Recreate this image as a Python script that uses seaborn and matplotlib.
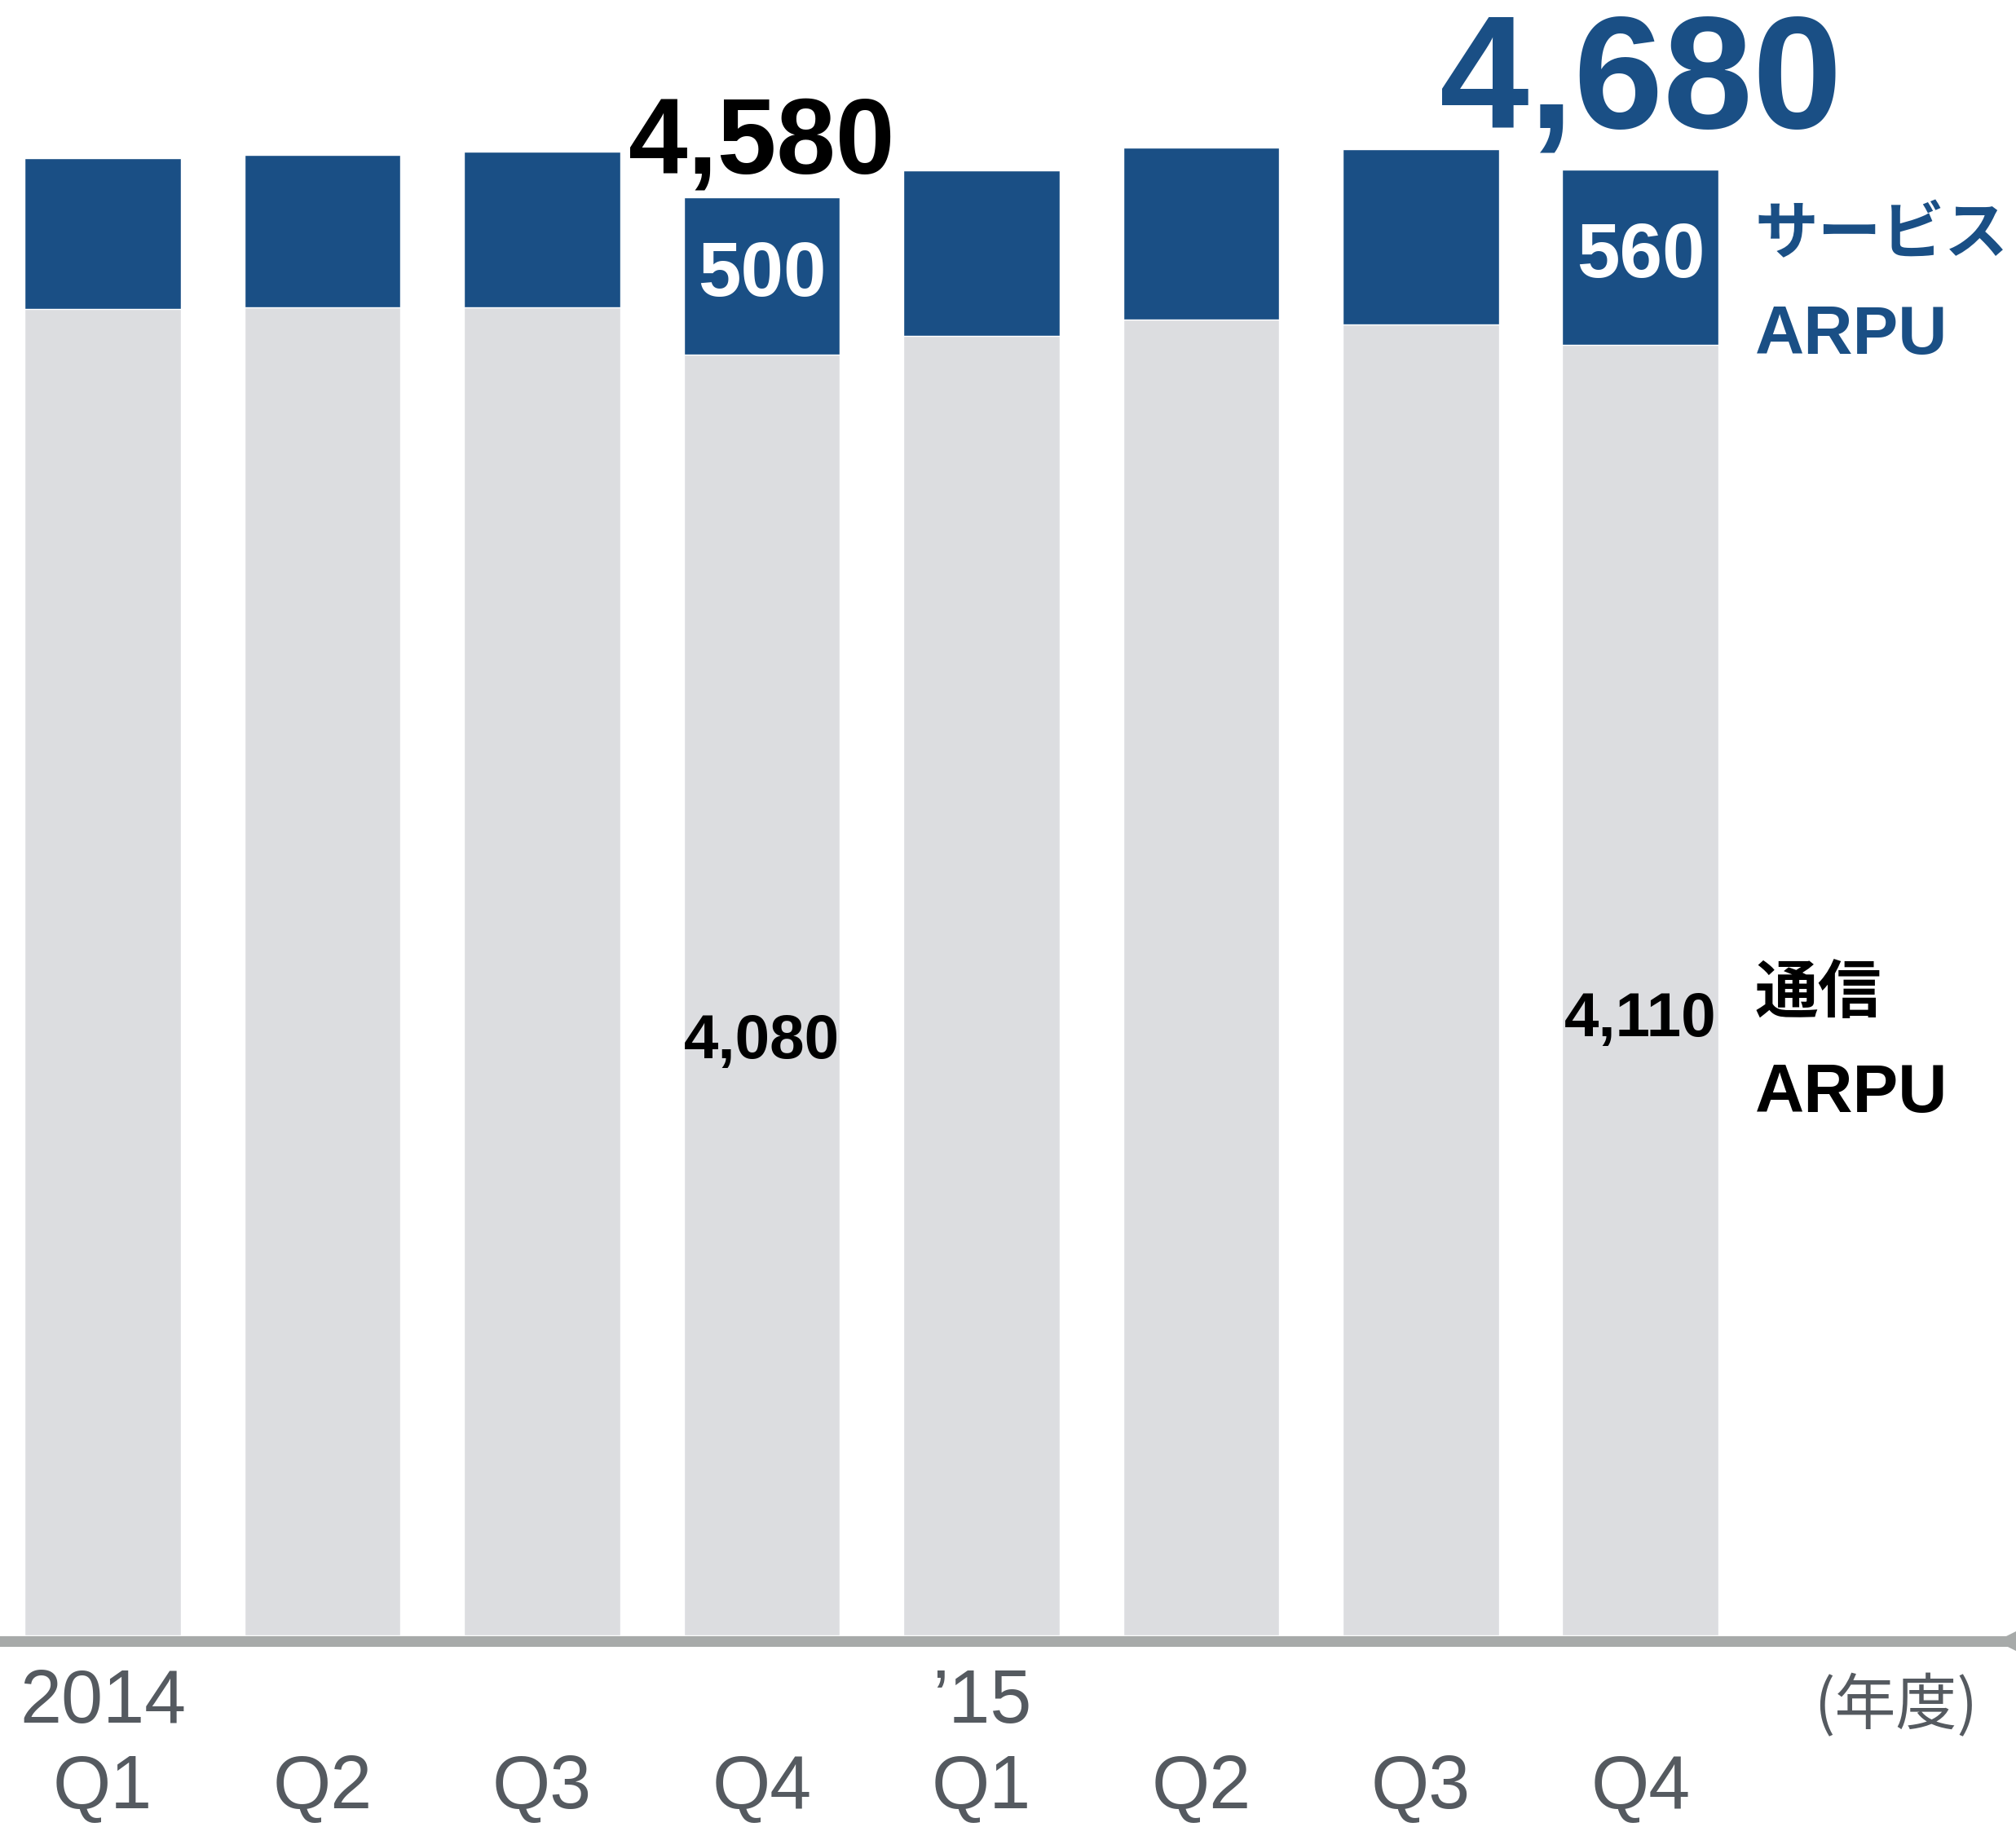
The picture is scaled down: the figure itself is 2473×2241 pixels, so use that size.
import matplotlib
matplotlib.use("Agg")
import matplotlib.pyplot as plt
import seaborn as sns
import pandas as pd

# quarterly ARPU (yen)
quarters = ["2014Q1", "2014Q2", "2014Q3", "2014Q4", "2015Q1", "2015Q2", "2015Q3", "2015Q4"]
tick_labels = ["2014\nQ1", "\nQ2", "\nQ3", "\nQ4", "’15\nQ1", "\nQ2", "\nQ3", "\nQ4"]
comm_arpu = [4225, 4230, 4230, 4080, 4140, 4190, 4175, 4110]
service_arpu = [480, 485, 495, 500, 525, 550, 560, 560]
# totals as printed on the chart (rounded figures)
total_labels = {3: "4,580", 7: "4,680"}

BLUE = "#1a4f85"
LIGHT = "#dcdde0"
AXIS = "#a7aaa9"
TICK = "#555a60"


def main():
    sns.set_theme(style="white")
    plt.rcParams["font.family"] = ["Liberation Sans", "DejaVu Sans"]

    df = pd.DataFrame({"quarter": quarters, "comm": comm_arpu, "service": service_arpu})
    df["total"] = df["comm"] + df["service"]

    fig = plt.figure(figsize=(24.73, 22.41), dpi=100)
    ax = fig.add_axes([0, 0.10486, 1, 0.89514])

    # stacked bars: full total in blue, communication part drawn over it
    sns.barplot(data=df, x="quarter", y="total", color=BLUE, saturation=1, width=0.712, ax=ax)
    sns.barplot(data=df, x="quarter", y="comm", color=LIGHT, saturation=1, width=0.712, ax=ax)

    ax.set_xlim(-0.4675, 8.709)
    ax.set_ylim(0, 5209)
    ax.set_xlabel("")
    ax.set_ylabel("")
    ax.set_yticks([])
    for s in ax.spines.values():
        s.set_visible(False)

    # baseline with arrow head at the right edge
    ax.axhline(-17, color=AXIS, lw=9.4, clip_on=False, zorder=3)
    ax.plot([8.709], [-17], marker="<", markersize=34, color=AXIS, clip_on=False, zorder=3,
            markeredgewidth=0)

    ax.set_xticks(range(len(quarters)))
    ax.set_xticklabels(tick_labels, fontsize=66, color=TICK, linespacing=1.28, va="top")
    ax.tick_params(axis="x", length=0, pad=29)
    ax.text(8.16, -226, "(年度)", fontsize=54, color=TICK, ha="center", va="center",
            family=["Noto Sans CJK JP", "DejaVu Sans"])

    # value labels for 2014 Q4 and 2015 Q4
    for i, big_color, big_size, dy, cy in [(3, "black", 94, 76, 1890), (7, BLUE, 142, 132, 1960)]:
        ax.text(i, df["total"][i] + dy, total_labels[i], fontsize=big_size, fontweight="bold",
                color=big_color, ha="center", va="baseline")
        ax.text(i, df["comm"][i] + df["service"][i] / 2, f"{df['service'][i]:,}", fontsize=68,
                fontweight="bold", color="white", ha="center", va="center")
        ax.text(i, cy, f"{df['comm'][i]:,}", fontsize=55, fontweight="bold",
                color="black", ha="center", va="center")

    # series labels on the right
    jp = ["Noto Sans CJK JP", "DejaVu Sans"]
    ax.text(7.52, 4459, "サービス", fontsize=56, fontweight="bold", color=BLUE,
            ha="left", va="center", family=jp)
    ax.text(7.52, 4140, "ARPU", fontsize=60, fontweight="bold", color=BLUE,
            ha="left", va="center")
    ax.text(7.52, 2044, "通信", fontsize=56, fontweight="bold", color="black",
            ha="left", va="center", family=jp)
    ax.text(7.52, 1725, "ARPU", fontsize=60, fontweight="bold", color="black",
            ha="left", va="center")

    fig.savefig("out.png", dpi=100)


if __name__ == "__main__":
    main()
